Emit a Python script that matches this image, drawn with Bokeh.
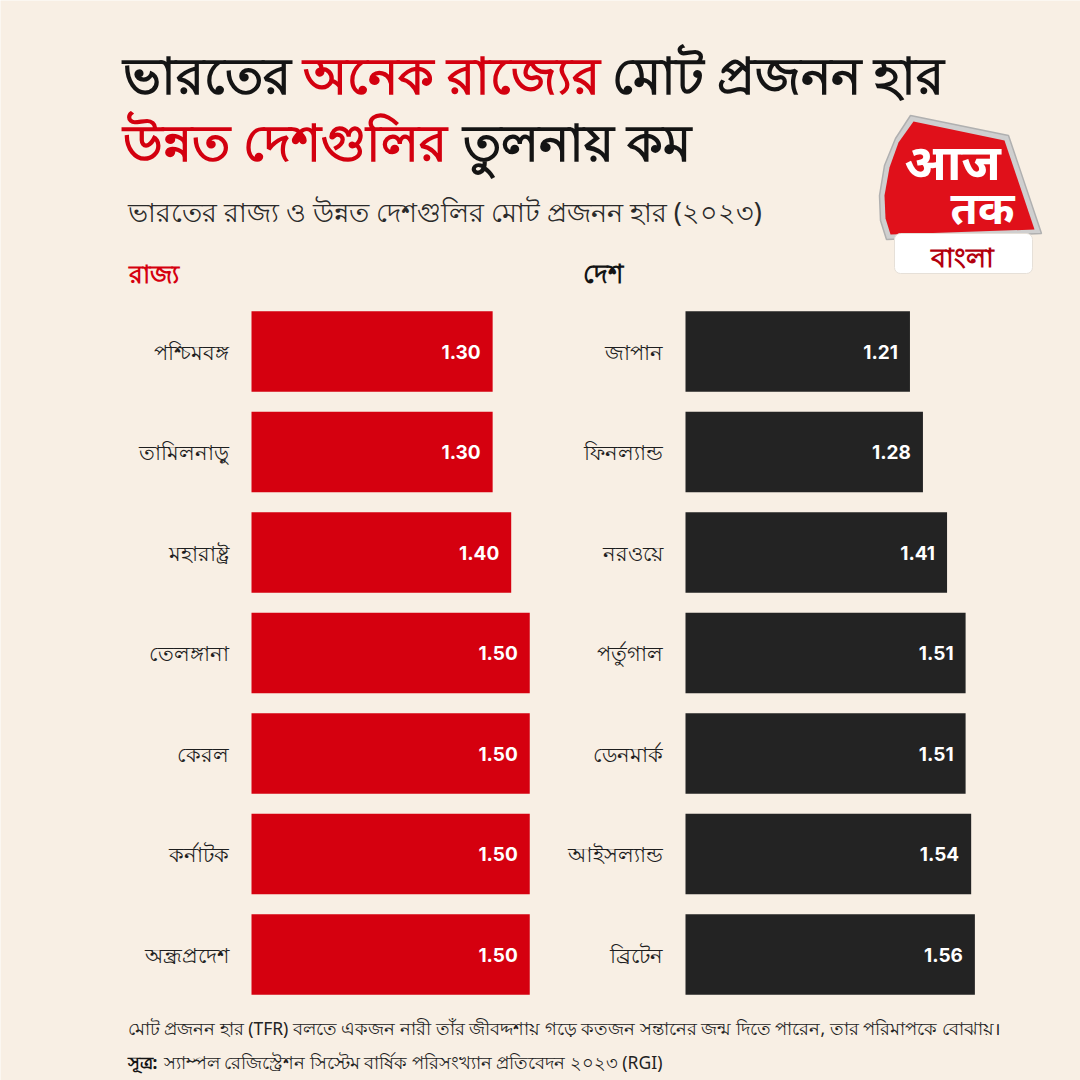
from bokeh.plotting import figure
from bokeh.models import Range1d, ColumnDataSource
from bokeh.core.properties import value
from bokeh.embed import file_html
from bokeh.resources import INLINE

# ---------------- data ----------------
states = ["পশ্চিমবঙ্গ", "তামিলনাড়ু", "মহারাষ্ট্র", "তেলঙ্গানা", "কেরল", "কর্নাটক", "অন্ধ্রপ্রদেশ"]
state_tfr = [1.30, 1.30, 1.40, 1.50, 1.50, 1.50, 1.50]
countries = ["জাপান", "ফিনল্যান্ড", "নরওয়ে", "পর্তুগাল", "ডেনমার্ক", "আইসল্যান্ড", "ব্রিটেন"]
country_tfr = [1.21, 1.28, 1.41, 1.51, 1.51, 1.54, 1.56]

title1 = [("ভারতের", "#141414"), ("অনেক রাজ্যের", "#d3000f"), ("মোট প্রজনন হার", "#141414")]
title2 = [("উন্নত দেশগুলির", "#d3000f"), ("তুলনায় কম", "#141414")]
subtitle = "ভারতের রাজ্য ও উন্নত দেশগুলির মোট প্রজনন হার (২০২৩)"
head_left = "রাজ্য"
head_right = "দেশ"
note = "মোট প্রজনন হার (TFR) বলতে একজন নারী তাঁর জীবদ্দশায় গড়ে কতজন সন্তানের জন্ম দিতে পারেন, তার পরিমাপকে বোঝায়।"
src_label = "সূত্র:"
src_text = "স্যাম্পল রেজিস্ট্রেশন সিস্টেম বার্ষিক পরিসংখ্যান প্রতিবেদন ২০২৩ (RGI)"

BG = "#f8efe4"
RED = "#d5000f"
DARK = "#232323"
FONT = value("Noto Sans")

W = H = 1080
p = figure(width=W, height=H, output_backend="svg", toolbar_location=None,
           x_range=Range1d(0, W), y_range=Range1d(H, 0), min_border=0,
           background_fill_color=BG, border_fill_color=BG, outline_line_color=None)
p.axis.visible = False
p.grid.visible = False

# scales for the two bar panels (unit = TFR, ~185.5 px per unit)
PX = 185.5
p.extra_x_ranges = {
    "left": Range1d(-251 / PX, (W - 251) / PX),
    "right": Range1d(-685 / PX, (W - 685) / PX),
}
ROW = 100.5
p.extra_y_ranges = {"rows": Range1d((H - 351) / ROW, -351 / ROW)}

idx = list(range(len(states)))
ls = ColumnDataSource(dict(y=idx, v=state_tfr, name=states, lab=[f"{v:.2f}" for v in state_tfr]))
rs = ColumnDataSource(dict(y=idx, v=country_tfr, name=countries, lab=[f"{v:.2f}" for v in country_tfr]))

for src, rng, col in ((ls, "left", RED), (rs, "right", DARK)):
    p.hbar(y="y", left=0, right="v", height=0.8, source=src, x_range_name=rng,
           y_range_name="rows", fill_color=col, line_color=None)
    p.text(x=0, y="y", text="name", source=src, x_range_name=rng, y_range_name="rows",
           x_offset=-23, text_align="right", text_baseline="middle",
           text_font=FONT, text_font_size="21px", text_color="#1e1e1e")
    p.text(x="v", y="y", text="lab", source=src, x_range_name=rng, y_range_name="rows",
           x_offset=-12, text_align="right", text_baseline="middle",
           text_font=value("Inter"), text_font_size="19px", text_font_style="bold",
           text_color="white")

# titles
for (t, c), x in zip(title1, [122, 302, 611]):
    p.text(x=[x], y=[73], text=[t], text_font=FONT, text_font_size="51px",
           text_font_style="bold", text_color=c, text_baseline="middle")
for (t, c), x in zip(title2, [122, 462]):
    p.text(x=[x], y=[140], text=[t], text_font=FONT, text_font_size="51px",
           text_font_style="bold", text_color=c, text_baseline="middle")
p.text(x=[127], y=[211], text=[subtitle], text_font=FONT, text_font_size="27px",
       text_color="#2a2a2a", text_baseline="middle")
p.text(x=[128], y=[272], text=[head_left], text_font=FONT, text_font_size="25px",
       text_font_style="bold", text_color=RED, text_baseline="middle")
p.text(x=[582], y=[272], text=[head_right], text_font=FONT, text_font_size="26px",
       text_font_style="bold", text_color="#141414", text_baseline="middle")

# footnotes
p.text(x=[127], y=[1027], text=[note], text_font=FONT, text_font_size="17.5px",
       text_color="#222222", text_baseline="middle")
p.text(x=[127], y=[1061], text=[src_label], text_font=FONT, text_font_size="17.5px",
       text_font_style="bold", text_color="#141414", text_baseline="middle")
p.text(x=[163], y=[1061], text=[src_text], text_font=FONT, text_font_size="17.5px",
       text_color="#222222", text_baseline="middle")

# logo (decorative)
p.patch(x=[910, 1008, 1041, 886, 880, 879, 884, 895],
        y=[115, 135, 233, 239, 220, 195, 165, 138],
        fill_color="#cfcfcf", line_color="#b0b0b0", line_width=1.5)
p.patch(x=[913, 1004, 1034, 890, 885, 884, 889, 898],
        y=[121, 140, 229, 234, 218, 195, 167, 142],
        fill_color="#e0101a", line_color=None)
p.text(x=[952], y=[160], text=["आज"], text_font=FONT, text_font_size="50px",
       text_font_style="bold", text_color="white", text_align="center", text_baseline="middle")
p.text(x=[982], y=[206], text=["तक"], text_font=FONT, text_font_size="44px",
       text_font_style="bold", text_color="white", text_align="center", text_baseline="middle")
p.rect(x=[963], y=[253], width=[138], height=[40], fill_color="white",
       line_color="#e6e0d8", border_radius=6)
p.text(x=[962], y=[256], text=["বাংলা"], text_font=FONT, text_font_size="27px",
       text_font_style="bold", text_color="#b3000e", text_align="center", text_baseline="middle")

open("out.html", "w").write(file_html(p, INLINE))
